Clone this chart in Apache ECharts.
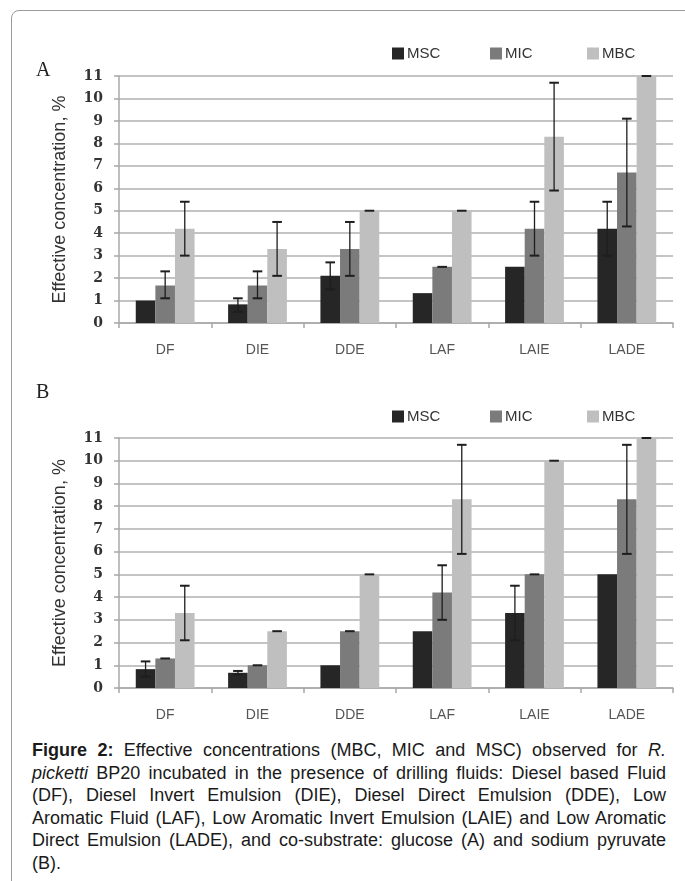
<!DOCTYPE html>
<html>
<head>
<meta charset="utf-8">
<script src="https://cdn.jsdelivr.net/npm/echarts@6/dist/echarts.min.js"></script>
<style>
  html, body { margin: 0; padding: 0; background: #ffffff; width: 685px; height: 881px; overflow: hidden; }
  #frame { position: absolute; left: 11px; top: 10px; width: 720px; height: 920px; border: 1px solid #9a9a9a; border-radius: 8px; box-sizing: border-box; }
  #chart { position: absolute; left: 0; top: 0; width: 685px; height: 735px; }
  #caption { position: absolute; left: 32px; top: 739px; width: 634px; font-family: "Liberation Sans", Arial, sans-serif; font-size: 18px; line-height: 22.6px; color: #1a1a1a; text-align: justify; }
  .nw { white-space: nowrap; }
</style>
</head>
<body>
<div id="frame"></div>
<div id="chart"></div>
<div id="caption"><b>Figure 2:</b> Effective concentrations (MBC, MIC and MSC) observed for <i>R. picketti</i> BP20 incubated in the presence of drilling fluids: Diesel based Fluid (DF), Diesel Invert Emulsion (DIE), Diesel Direct Emulsion (DDE), Low Aromatic Fluid (LAF), Low Aromatic Invert Emulsion (LAIE) and Low Aromatic Direct Emulsion (LADE), and <span class="nw">co-substrate:</span> glucose (A) and sodium pyruvate (B).</div>
<script>
// ---------- data ----------
var categories = ['DF', 'DIE', 'DDE', 'LAF', 'LAIE', 'LADE'];
var seriesNames = ['MSC', 'MIC', 'MBC'];
var yTicks = [0, 11, 1]; // min, max, interval

// Panel A (glucose)
var A_MSC = [1.0, 0.83, 2.1, 1.33, 2.5, 4.2];
var A_MIC = [1.67, 1.67, 3.3, 2.5, 4.2, 6.7];
var A_MBC = [4.2, 3.3, 5.0, 5.0, 8.3, 11.0];
var A_MSC_err = [null, [0.5, 1.1], [1.5, 2.7], null, null, [3.0, 5.4]];
var A_MIC_err = [[1.1, 2.3], [1.1, 2.3], [2.1, 4.5], [2.5, 2.5], [3.0, 5.4], [4.3, 9.1]];
var A_MBC_err = [[3.0, 5.4], [2.1, 4.5], [5.0, 5.0], [5.0, 5.0], [5.9, 10.7], [11.0, 11.0]];

// Panel B (sodium pyruvate)
var B_MSC = [0.83, 0.67, 1.0, 2.5, 3.3, 5.0];
var B_MIC = [1.3, 1.0, 2.5, 4.2, 5.0, 8.3];
var B_MBC = [3.3, 2.5, 5.0, 8.3, 10.0, 11.0];
var B_MSC_err = [[0.5, 1.17], [0.6, 0.75], null, null, [2.1, 4.5], null];
var B_MIC_err = [[1.3, 1.3], [1.0, 1.0], [2.5, 2.5], [3.0, 5.4], [5.0, 5.0], [5.9, 10.7]];
var B_MBC_err = [[2.1, 4.5], [2.5, 2.5], [5.0, 5.0], [5.9, 10.7], [10.0, 10.0], [11.0, 11.0]];

// ---------- styling ----------
var COLORS = ['#262626', '#7b7b7b', '#bfbfbf'];
var BAR_W = 19.6;
var grids = [
  { left: 119, right: 12, top: 76, height: 247 },
  { left: 119, right: 12, top: 438, height: 250 }
];
var legendTops = [41, 404];
var legendLefts = [387, 485, 582];

function errData(arr) {
  var out = [];
  arr.forEach(function (e, i) { if (e) out.push([i, e[0], e[1]]); });
  return out;
}

function errSeries(arr, sIdx, gIdx) {
  return {
    type: 'custom',
    xAxisIndex: gIdx, yAxisIndex: gIdx,
    silent: true, z: 10,
    encode: { x: 0, y: [1, 2] },
    renderItem: function (params, api) {
      var lo = api.coord([api.value(0), api.value(1)]);
      var hi = api.coord([api.value(0), api.value(2)]);
      var cx = lo[0] + (sIdx - 1) * BAR_W;
      var hw = 4.8;
      var st = { stroke: '#1e1e1e', lineWidth: 1.3 };
      var cap = { stroke: '#1e1e1e', lineWidth: 2 };
      var kids = [
        { type: 'line', shape: { x1: cx - hw, y1: hi[1], x2: cx + hw, y2: hi[1] }, style: cap }
      ];
      if (Math.abs(lo[1] - hi[1]) > 0.5) {
        kids.push({ type: 'line', shape: { x1: cx, y1: hi[1], x2: cx, y2: lo[1] }, style: st });
        kids.push({ type: 'line', shape: { x1: cx - hw, y1: lo[1], x2: cx + hw, y2: lo[1] }, style: cap });
      }
      return { type: 'group', children: kids };
    },
    data: errData(arr)
  };
}

function barSeries(name, data, sIdx, gIdx) {
  return {
    name: name, type: 'bar',
    xAxisIndex: gIdx, yAxisIndex: gIdx,
    barWidth: BAR_W, barGap: '0%',
    itemStyle: { color: COLORS[sIdx] },
    data: data
  };
}

var xAxes = [], yAxes = [], legends = [], titles = [];
[0, 1].forEach(function (g) {
  xAxes.push({
    type: 'category', gridIndex: g, data: categories,
    axisLine: { show: true, lineStyle: { color: '#a8a8a8', width: 1.5 } },
    axisTick: { show: true, length: 5, lineStyle: { color: '#a8a8a8', width: 1.5 } },
    axisLabel: { margin: 20, fontFamily: 'Liberation Sans, Arial, sans-serif', fontSize: 14, color: '#555' }
  });
  yAxes.push({
    type: 'value', gridIndex: g, min: yTicks[0], max: yTicks[1], interval: yTicks[2],
    name: 'Effective concentration, %', nameLocation: 'middle', nameGap: 50,
    nameTextStyle: { fontFamily: 'Liberation Sans, Arial, sans-serif', fontSize: 18, color: '#333' },
    axisLine: { show: true, lineStyle: { color: '#a8a8a8', width: 1.5 } },
    axisTick: { show: true, length: 5, lineStyle: { color: '#a8a8a8', width: 1.5 } },
    splitLine: { show: true, lineStyle: { color: '#c4c4c4', width: 1.8 } },
    axisLabel: { margin: 16, fontFamily: 'DejaVu Serif, serif', fontSize: 14, fontWeight: 'bold', color: '#333' }
  });
  seriesNames.forEach(function (n, i) {
    legends.push({
      data: [n], left: legendLefts[i], top: legendTops[g],
      itemWidth: 12, itemHeight: 12, icon: 'rect', itemGap: 0,
      textStyle: { fontFamily: 'Liberation Sans, Arial, sans-serif', fontSize: 15, color: '#333', padding: [0, 0, 0, -2] }
    });
  });
});
titles.push({ text: 'A', left: 31, top: 56, textStyle: { fontFamily: 'Liberation Serif, serif', fontSize: 20, fontWeight: 'normal', color: '#222' } });
titles.push({ text: 'B', left: 31, top: 378, textStyle: { fontFamily: 'Liberation Serif, serif', fontSize: 20, fontWeight: 'normal', color: '#222' } });

var series = [
  barSeries('MSC', A_MSC, 0, 0), barSeries('MIC', A_MIC, 1, 0), barSeries('MBC', A_MBC, 2, 0),
  barSeries('MSC', B_MSC, 0, 1), barSeries('MIC', B_MIC, 1, 1), barSeries('MBC', B_MBC, 2, 1),
  errSeries(A_MSC_err, 0, 0), errSeries(A_MIC_err, 1, 0), errSeries(A_MBC_err, 2, 0),
  errSeries(B_MSC_err, 0, 1), errSeries(B_MIC_err, 1, 1), errSeries(B_MBC_err, 2, 1)
];

var chart = echarts.init(document.getElementById('chart'), null, { renderer: 'canvas' });
chart.setOption({
  animation: false,
  backgroundColor: 'transparent',
  title: titles,
  legend: legends,
  grid: grids,
  xAxis: xAxes,
  yAxis: yAxes,
  series: series
});
</script>
</body>
</html>
